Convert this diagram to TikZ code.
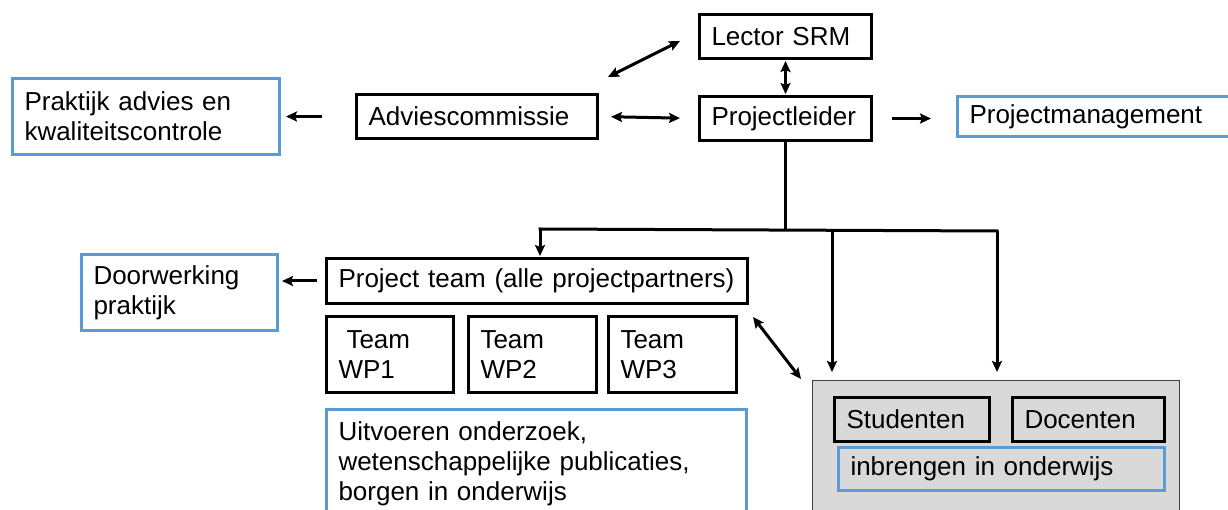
\documentclass[tikz,border=0pt]{standalone}
\usepackage{fontspec}
\setmainfont{Liberation Sans}
\usetikzlibrary{arrows.meta}
\definecolor{bluec}{HTML}{5B9BD5}
\definecolor{grayfill}{HTML}{D9D9D9}
\definecolor{grayline}{HTML}{404040}
\begin{document}
\begin{tikzpicture}[x=1pt,y=-1pt,
  blk/.style={draw=black, line width=3pt, fill=white, inner xsep=12pt, inner ysep=0pt,
    align=left, anchor=north west, font=\fontsize{26}{30}\selectfont},
  blu/.style={blk, draw=bluec},
  grp/.style={draw=grayline, line width=1pt, fill=grayfill, anchor=north west, inner sep=0pt},
  arr/.style={line width=3pt, -{Stealth[length=11pt,width=10pt,inset=2pt]}},
  darr/.style={line width=3pt, {Stealth[length=11pt,width=10pt,inset=2pt]}-{Stealth[length=11pt,width=10pt,inset=2pt]}},
  ln/.style={line width=3pt}
]
\useasboundingbox (0,0) rectangle (1228,510);
\clip (0,0) rectangle (1228,510);
\fill[white] (0,0) rectangle (1228,510);

% top row
\node[blk, text width=148pt, minimum height=44pt] (lector) at (698,13) {Lector SRM};
\node[blk, text width=148pt, minimum height=44pt] (pl) at (698,95) {Projectleider};
\node[blk, text width=217pt, minimum height=44pt] (adv) at (355,93) {Adviescommissie};
\node[blu, text width=243pt, minimum height=76pt] (prak) at (11,77) {Praktijk advies en\\kwaliteitscontrole};
\node[blu, text width=266pt, minimum height=40pt] (pm) at (956,95) {Projectmanagement};

% middle
\node[blk, text width=397pt, minimum height=45pt] (pt) at (325,257) {Project team (alle projectpartners)};
\node[blu, text width=172pt, minimum height=76pt] (door) at (80,253) {Doorwerking\\praktijk};
\node[blk, text width=103pt, minimum height=76pt] (wp1) at (325,315) {\hspace*{8pt}Team\\WP1};
\node[blk, text width=104pt, minimum height=76pt] (wp2) at (467,315) {Team\\WP2};
\node[blk, text width=104pt, minimum height=76pt] (wp3) at (607,315) {Team\\WP3};
\node[blu, text width=396pt, minimum height=108pt] (uit) at (325,408) {Uitvoeren onderzoek,\\wetenschappelijke publicaties,\\borgen in onderwijs};

% gray group
\node[grp, minimum width=367pt, minimum height=160pt] (grp) at (812,380) {};
\node[blk, text width=131pt, minimum height=44pt, fill=grayfill] (stud) at (833,396) {Studenten};
\node[blk, text width=128pt, minimum height=44pt, fill=grayfill] (doc) at (1011,396) {Docenten};
\node[blu, text width=302pt, minimum height=43pt, fill=grayfill] (inb) at (837,446) {inbrengen in onderwijs};

% connectors
\draw[arr, shorten <=33pt, shorten >=5pt] (adv.west) -- (prak.east |- adv.west);
\draw[darr, shorten <=12pt, shorten >=18pt] (adv.east) -- (pl.west);
\coordinate (d1) at (608,77);
\coordinate (d2) at (680,41);
\draw[darr] (d1) -- (d2);
\draw[darr, shorten <=1pt, shorten >=1pt] (lector.south) -- (pl.north);
\draw[arr, shorten <=19pt, shorten >=25pt] (pl.east) -- (pm.west |- pl.east);

\coordinate (j) at (pl.south |- 0,230);
\coordinate (bl) at (540,229);
\coordinate (bm) at (832,230);
\coordinate (br) at (997,231);
\draw[ln] (pl.south) -- (j);
\draw[ln, line cap=rect] (bl) -- (br);
\draw[arr, shorten >=1pt] (bl) -- (bl |- pt.north);
\draw[arr, shorten >=8pt] (bm) -- (bm |- grp.north);
\draw[arr, shorten >=8pt] (br) -- (br |- grp.north);

\draw[arr, shorten <=8pt, shorten >=3pt] (pt.west) -- (pt.west -| door.east);

\coordinate (e1) at (753,317);
\coordinate (e2) at (801,379);
\draw[darr] (e1) -- (e2);
\end{tikzpicture}
\end{document}
